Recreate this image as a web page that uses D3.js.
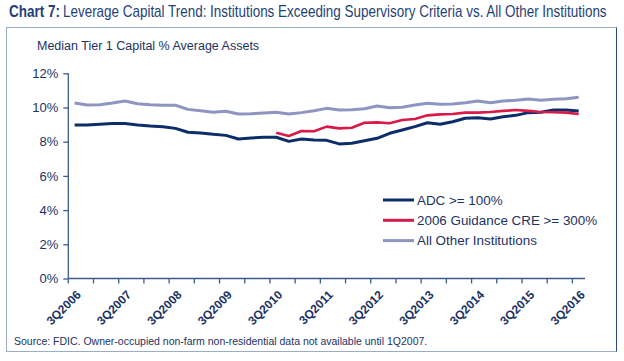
<!DOCTYPE html>
<html>
<head>
<meta charset="utf-8">
<script src="https://cdn.jsdelivr.net/npm/d3@7"></script>
<style>
  body { margin: 0; background: #fff; }
  svg { display: block; }
</style>
</head>
<body>
<svg id="chart" width="624" height="361"></svg>
<script>
var quarters = ["3Q2006","4Q2006","1Q2007","2Q2007","3Q2007","4Q2007","1Q2008","2Q2008",
	"3Q2008","4Q2008","1Q2009","2Q2009","3Q2009","4Q2009","1Q2010","2Q2010",
	"3Q2010","4Q2010","1Q2011","2Q2011","3Q2011","4Q2011","1Q2012","2Q2012",
	"3Q2012","4Q2012","1Q2013","2Q2013","3Q2013","4Q2013","1Q2014","2Q2014",
	"3Q2014","4Q2014","1Q2015","2Q2015","3Q2015","4Q2015","1Q2016","2Q2016","3Q2016"];

var adc = [8.98, 8.98, 9.02, 9.07, 9.07, 8.98, 8.92, 8.88, 8.78, 8.55,
	8.51, 8.43, 8.37, 8.16, 8.22, 8.26, 8.26, 8.02, 8.16, 8.10,
	8.08, 7.87, 7.91, 8.06, 8.20, 8.49, 8.68, 8.88, 9.11, 9.02,
	9.17, 9.37, 9.40, 9.33, 9.46, 9.54, 9.70, 9.72, 9.85, 9.85, 9.80];

var cre = [null, null, null, null, null, null, null, null, null, null,
	null, null, null, null, null, null, 8.53, 8.33, 8.63, 8.61,
	8.88, 8.78, 8.82, 9.11, 9.13, 9.08, 9.27, 9.33, 9.54, 9.60,
	9.62, 9.70, 9.70, 9.74, 9.80, 9.85, 9.80, 9.74, 9.72, 9.70, 9.62];

var other = [10.26, 10.15, 10.16, 10.26, 10.38, 10.22, 10.16, 10.13, 10.13, 9.89,
	9.81, 9.72, 9.78, 9.62, 9.64, 9.68, 9.72, 9.62, 9.70, 9.81,
	9.95, 9.85, 9.87, 9.93, 10.09, 9.99, 10.01, 10.15, 10.25, 10.19,
	10.20, 10.28, 10.38, 10.28, 10.38, 10.42, 10.50, 10.42, 10.48, 10.51, 10.60];

var y_ticks = [0, 2, 4, 6, 8, 10, 12];
var x_labels = ["3Q2006","3Q2007","3Q2008","3Q2009","3Q2010","3Q2011",
	"3Q2012","3Q2013","3Q2014","3Q2015","3Q2016"];

var series = [
	{name: "ADC >= 100%", values: adc, color: "#0c2d69", width: 3},
	{name: "2006 Guidance CRE >= 300%", values: cre, color: "#d81a48", width: 2.6},
	{name: "All Other Institutions", values: other, color: "#8d95c0", width: 3}
];

var text_color = "#1b3263";
var axis_color = "#3d5a8e";
var font = "'Liberation Sans', Arial, sans-serif";

var svg = d3.select("#chart");

// frame
svg.append("rect")
	.attr("x", 6.5).attr("y", 27.5)
	.attr("width", 610).attr("height", 324)
	.attr("fill", "none")
	.attr("stroke", "#9aaccb")
	.attr("stroke-width", 1);
svg.append("line")
	.attr("x1", 616.5).attr("x2", 616.5)
	.attr("y1", 27.5).attr("y2", 351.5)
	.attr("stroke", "#2b4b84");

// title, squeezed to look condensed
function condensed_text(x0, w, bold, str) {
	var t = svg.append("text")
		.attr("font-family", font)
		.attr("font-size", 16)
		.attr("font-weight", bold ? "bold" : "normal")
		.attr("fill", "#1f3f78")
		.text(str);
	var natural = t.node().getComputedTextLength();
	t.attr("transform", "translate(" + x0 + ",17) scale(" + (w / natural) + ",1)");
}
condensed_text(9, 51, true, "Chart 7:");
condensed_text(63, 544, false, "Leverage Capital Trend: Institutions Exceeding Supervisory Criteria vs. All Other Institutions");

var x = d3.scaleBand()
	.domain(quarters)
	.range([68.3, 585])
	.padding(0);

var y = d3.scaleLinear()
	.domain([0, 12])
	.range([278.5, 73.3]);

var cx = function(i) { return x(quarters[i]) + x.bandwidth() / 2; };

// y axis
var y_axis = svg.append("g")
	.attr("transform", "translate(68.3,0)")
	.call(d3.axisLeft(y)
		.tickValues(y_ticks)
		.tickSize(5)
		.tickPadding(5)
		.tickFormat(function(d) { return d + "%"; }));
y_axis.selectAll("path, line").attr("stroke", axis_color).attr("stroke-width", 1.3);
y_axis.select(".domain").attr("d", "M0," + y(12) + "V" + y(0));
y_axis.selectAll("text")
	.attr("font-family", font)
	.attr("font-size", 13)
	.attr("fill", text_color);

svg.append("text")
	.attr("x", 37).attr("y", 50)
	.attr("font-family", font)
	.attr("font-size", 12.5)
	.attr("fill", text_color)
	.text("Median Tier 1 Capital % Average Assets");

// x axis
var x_axis = svg.append("g");
x_axis.append("line")
	.attr("x1", x.range()[0]).attr("x2", x.range()[1])
	.attr("y1", y(0)).attr("y2", y(0))
	.attr("stroke", axis_color).attr("stroke-width", 1.3);

x_axis.selectAll(".tick-mark")
	.data(quarters.filter(function(q, i) { return i % 2 == 0; }))
	.enter().append("line")
	.attr("class", "tick-mark")
	.attr("x1", function(d) { return x(d); })
	.attr("x2", function(d) { return x(d); })
	.attr("y1", y(0)).attr("y2", y(0) + 5)
	.attr("stroke", axis_color).attr("stroke-width", 1.3);

x_axis.selectAll(".tick-label")
	.data(x_labels)
	.enter().append("text")
	.attr("class", "tick-label")
	.attr("text-anchor", "end")
	.attr("font-family", font)
	.attr("font-size", 12)
	.attr("font-weight", "bold")
	.attr("fill", text_color)
	.attr("transform", function(d) {
		var px = x(d) + x.bandwidth() / 2 + 7;
		return "translate(" + px + "," + (y(0) + 17) + ") rotate(-45)";
	})
	.text(function(d) { return d; });

// lines
var line = d3.line()
	.defined(function(d) { return d.v !== null; })
	.x(function(d) { return cx(d.i); })
	.y(function(d) { return y(d.v); });

var order = [2, 0, 1];
order.forEach(function(k) {
	var s = series[k];
	svg.append("path")
		.datum(s.values.map(function(v, i) { return {i: i, v: v}; }))
		.attr("fill", "none")
		.attr("stroke", s.color)
		.attr("stroke-width", s.width)
		.attr("stroke-linejoin", "round")
		.attr("d", line);
});

// legend
var legend = svg.append("g");
series.forEach(function(s, i) {
	var ly = 200 + i * 20.3;
	legend.append("line")
		.attr("x1", 383).attr("x2", 414)
		.attr("y1", ly).attr("y2", ly)
		.attr("stroke", s.color)
		.attr("stroke-width", 3);
	legend.append("text")
		.attr("x", 417).attr("y", ly + 4.7)
		.attr("font-family", font)
		.attr("font-size", 13.4)
		.attr("fill", text_color)
		.text(s.name);
});

// source
svg.append("text")
	.attr("x", 14).attr("y", 345)
	.attr("font-family", font)
	.attr("font-size", 10.5)
	.attr("fill", text_color)
	.text("Source: FDIC. Owner-occupied non-farm non-residential data not available until 1Q2007.");
</script>
</body>
</html>
